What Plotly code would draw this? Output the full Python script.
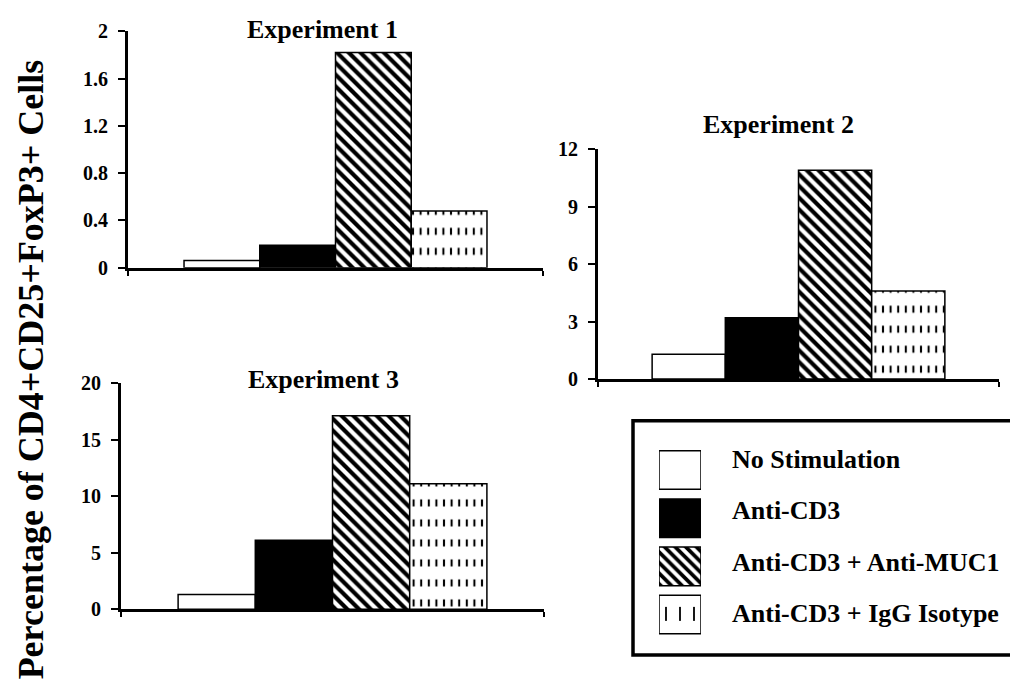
import plotly.graph_objects as go

# ---- data ----
series_names = ["No Stimulation", "Anti-CD3", "Anti-CD3 + Anti-MUC1", "Anti-CD3 + IgG Isotype"]
experiments = ["Experiment 1", "Experiment 2", "Experiment 3"]
exp1_values = [0.06, 0.19, 1.82, 0.48]
exp2_values = [1.3, 3.2, 10.9, 4.6]
exp3_values = [1.3, 6.1, 17.1, 11.1]
y_max = [2, 12, 20]
y_dtick = [0.4, 3, 5]
y_title = "Percentage of CD4+CD25+FoxP3+ Cells"

W, H = 1010, 700
FONT = "Liberation Serif"


def px_x(v):
    return v / W


def px_y(v):
    return 1 - v / H


panel_px = [(128, 543, 265, 21), (598, 999, 380, 142.7), (121, 544, 617.7, 384)]
title_px = [(322, 19), (778, 117), (323, 380)]

fills = ["white", "black", "white", "white"]
shapes = ["", "", "\\", "|"]
solid = [0.3, 0.3, 0.5, 0.27]
bar_sizes = [8, 8, 8.3, 7.6]
swatch_sizes = [8, 8, 7.5, 14]

fig = go.Figure()
values_all = [exp1_values, exp2_values, exp3_values]


def add_series_bar(fig, xs, ys, i, xa, ya, sizes, orient="v", width=None, group=None,
                   cut=(20, 0.65)):
    kw = dict(orientation=orient, xaxis=xa, yaxis=ya, showlegend=False, hoverinfo="skip",
              offsetgroup=group if group is not None else str(i))
    if width is not None:
        kw["width"] = width
    sol = solid[i] if sizes[i] < 10 else 0.13
    fig.add_trace(go.Bar(
        x=xs, y=ys, name=series_names[i],
        marker=dict(
            color=fills[i],
            line=dict(color="black", width=0 if i == 3 else 1.5),
            pattern=dict(shape=shapes[i], fgcolor="black", bgcolor=fills[i],
                         size=sizes[i], solidity=sol, fillmode="replace"),
        ),
        **kw,
    ))
    if i == 3:
        # white horizontal cuts break the vertical lines into dashes; outline drawn on top
        fig.add_trace(go.Bar(
            x=xs, y=ys,
            marker=dict(
                color="rgba(0,0,0,0)",
                line=dict(color="black", width=1.5),
                pattern=dict(shape="-", fgcolor="white", bgcolor="rgba(0,0,0,0)",
                             size=cut[0], solidity=cut[1], fgopacity=1),
            ),
            **kw,
        ))


for k, vals in enumerate(values_all):
    ax = "" if k == 0 else str(k + 1)
    for i, v in enumerate(vals):
        add_series_bar(fig, [experiments[k]], [v], i, "x" + ax, "y" + ax, bar_sizes)

# legend swatches: horizontal bars on their own axes
swatch_len = 1
for i, name in enumerate(series_names):
    add_series_bar(fig, [swatch_len], [name], i, "x4", "y4", swatch_sizes, orient="h",
                   width=0.8, group="L", cut=(28, 0.5))

layout = dict(
    width=W, height=H, margin=dict(l=0, r=0, t=0, b=0),
    paper_bgcolor="white", plot_bgcolor="white",
    barmode="group", bargap=0.27, bargroupgap=0,
    font=dict(family=FONT, color="black"),
)

for k in range(3):
    ax = "" if k == 0 else str(k + 1)
    l, r, b, t = panel_px[k]
    layout["xaxis" + ax] = dict(
        domain=[px_x(l), px_x(r)], anchor="y" + ax, type="category",
        showline=True, linecolor="black", linewidth=3,
        ticks="outside", tickson="boundaries", ticklen=5, tickwidth=2, tickcolor="black",
        showticklabels=False, showgrid=False, zeroline=False, fixedrange=True,
    )
    layout["yaxis" + ax] = dict(
        domain=[px_y(b), px_y(t)], anchor="x" + ax,
        range=[0, y_max[k]], dtick=y_dtick[k], tick0=0,
        showline=True, linecolor="black", linewidth=3,
        ticks="outside", ticklen=7, tickwidth=2, tickcolor="black",
        tickfont=dict(family=FONT, size=20, weight=700, color="black"),
        ticklabelstandoff=6,
        showgrid=False, zeroline=False, fixedrange=True,
    )

layout["xaxis4"] = dict(domain=[px_x(659), px_x(701)], anchor="y4", range=[0, 1],
                        visible=False, fixedrange=True)
layout["yaxis4"] = dict(domain=[px_y(648), px_y(449)], anchor="x4", type="category",
                        categoryarray=series_names, categoryorder="array",
                        autorange="reversed", visible=False, fixedrange=True)

fig.update_layout(**layout)

# panel titles
for k, (cx, cy) in enumerate(title_px):
    fig.add_annotation(x=px_x(cx), y=px_y(cy), xref="paper", yref="paper",
                       text=experiments[k], showarrow=False,
                       xanchor="center", yanchor="middle",
                       font=dict(family=FONT, size=26, weight=700, color="black"))

# shared y-axis title
fig.add_annotation(x=px_x(31), y=px_y(370), xref="paper", yref="paper",
                   text=y_title, textangle=-90, showarrow=False,
                   xanchor="center", yanchor="middle",
                   font=dict(family=FONT, size=36, weight=700, color="black"))

# legend frame and labels
fig.add_shape(type="rect", xref="paper", yref="paper",
              x0=px_x(633), x1=px_x(1014), y0=px_y(665), y1=px_y(423),
              line=dict(color="black", width=3.5), fillcolor="rgba(0,0,0,0)")
legend_label_y = [463, 516, 569, 622]
for name, ly in zip(series_names, legend_label_y):
    fig.add_annotation(x=px_x(730), y=px_y(ly), xref="paper", yref="paper",
                       text=name, showarrow=False, xanchor="left", yanchor="middle",
                       font=dict(family=FONT, size=26, weight=700, color="black"))

fig.write_html("out.html")
